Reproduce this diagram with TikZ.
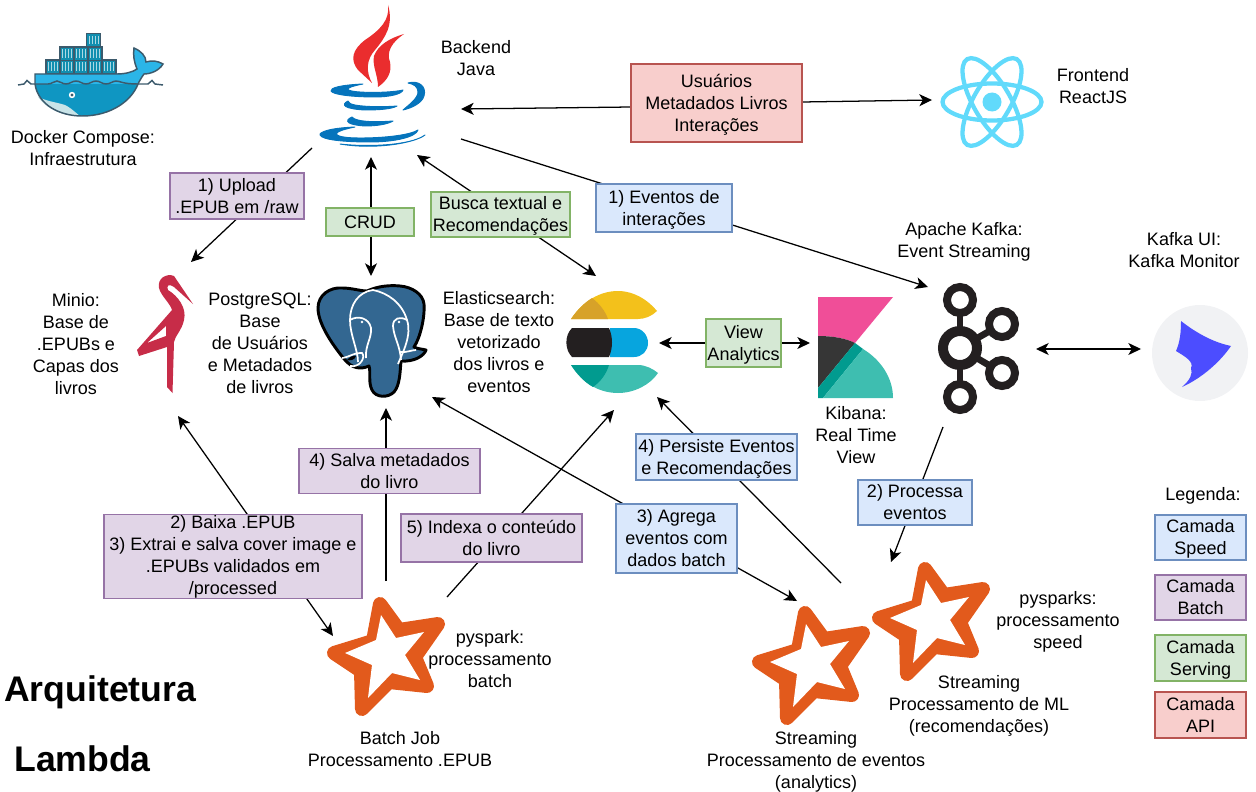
\documentclass[tikz,border=0pt]{standalone}
\usepackage{fontspec}
\setmainfont{Liberation Sans}
\usetikzlibrary{arrows.meta}
\newcommand{\Ls}{\rule[-3.4pt]{0pt}{16.3pt}}
\newcommand{\Lt}{\rule[-1.9pt]{0pt}{12.8pt}}
\definecolor{redF}{HTML}{F8CECC}\definecolor{redD}{HTML}{B85450}
\definecolor{purF}{HTML}{E1D5E7}\definecolor{purD}{HTML}{9673A6}
\definecolor{greF}{HTML}{D5E8D4}\definecolor{greD}{HTML}{82B366}
\definecolor{bluF}{HTML}{DAE8FC}\definecolor{bluD}{HTML}{6C8EBF}
\definecolor{spark}{HTML}{E25A1C}
\definecolor{javaB}{HTML}{0574BC}\definecolor{javaR}{HTML}{EA2D2E}
\definecolor{pgB}{HTML}{336791}\definecolor{minioR}{HTML}{C72C48}
\definecolor{reactC}{HTML}{61DAFB}\definecolor{kafkaK}{HTML}{231F20}
\definecolor{esY}{HTML}{F3C11B}\definecolor{esYD}{HTML}{D7A229}
\definecolor{esK}{HTML}{231F20}\definecolor{esB}{HTML}{07A5DE}
\definecolor{esT}{HTML}{3EBEB0}\definecolor{esTD}{HTML}{019B8F}
\definecolor{kbP}{HTML}{F04E98}\definecolor{kbK}{HTML}{363636}
\definecolor{dkB}{HTML}{2BB5E8}\definecolor{dkH}{HTML}{0F96C2}
\definecolor{dkL}{HTML}{3C5A6C}\definecolor{dkC}{HTML}{118FB0}\definecolor{dkW}{HTML}{C9E4E8}
\definecolor{uiG}{HTML}{F1F2F4}\definecolor{uiB}{HTML}{4C4DFF}
\tikzset{
  txt/.style={align=center,inner sep=0pt,font=\fontsize{13.5}{16.5}\selectfont},
  lab/.style={draw,line width=0.9pt,align=center,inner sep=0pt,font=\fontsize{13.5}{16.5}\selectfont},
  apibox/.style={lab,fill=redF,draw=redD},
  batchbox/.style={lab,fill=purF,draw=purD},
  servebox/.style={lab,fill=greF,draw=greD},
  speedbox/.style={lab,fill=bluF,draw=bluD},
  conn/.style={line width=0.95pt,-{Stealth[length=9.5pt,width=9pt,inset=2.6pt]}},
  connb/.style={line width=0.95pt,{Stealth[length=9.5pt,width=9pt,inset=2.6pt]}-{Stealth[length=9.5pt,width=9pt,inset=2.6pt]}},
  title/.style={inner sep=0pt,font=\fontsize{26.7}{30}\selectfont\bfseries},
  sparkstar/.pic={
    \filldraw[spark,line width=10.5pt,line join=round]
      (-5,-52)--(14,-26)--(53,-32)--(30,1)--(42,30)--(4,26)--(-23,53)--(-24,15)--(-51,-3)--(-12,-15)--cycle;
    \fill[white] (-4,-41)--(11,-18)--(39,-24)--(20,-1)--(35,24)--(7,17)--(-17,42)--(-13,9)--(-40,-3)--(-9,-16)--cycle;}
}
\begin{document}
\begin{tikzpicture}[x=0.75pt,y=-0.75pt]
\useasboundingbox (0,0) rectangle (1256,792);

% ---------- connector ports
\coordinate (javaUpload) at (312,148);
\coordinate (minioTop) at (191,262);
\coordinate (javaLeft) at (461,109);
\coordinate (reactLeft) at (932,100);
\coordinate (javaBottom) at (371,157);
\coordinate (pgTop) at (371,276);
\coordinate (javaSearch) at (417,155);
\coordinate (esTop) at (596,276);
\coordinate (javaEvents) at (461,139);
\coordinate (kafkaTop) at (928,287);
\coordinate (esRight) at (659,343);
\coordinate (kibanaLeft) at (810,343);
\coordinate (kafkaRight) at (1036,349);
\coordinate (uiLeft) at (1141,349);
\coordinate (kafkaBottom) at (943,427);
\coordinate (mlTop) at (891,562);
\coordinate (minioBottom) at (178,416);
\coordinate (batchLeft) at (333,636);
\coordinate (batchTop) at (386,581);
\coordinate (pgBottom) at (386,408);
\coordinate (batchRight) at (447,597);
\coordinate (esBottom) at (614,410);
\coordinate (pgRight) at (432,397);
\coordinate (analyticsTop) at (797,601);
\coordinate (mlLeft) at (841,583);
\coordinate (esLower) at (657,397);

% ---------- connectors (labels sit on top of them)
\draw[conn] (javaUpload) -- (minioTop);
\draw[conn] (631,107) -- (javaLeft);
\draw[conn] (802,102) -- (reactLeft);
\draw[connb] (javaBottom) -- (pgTop);
\draw[connb] (javaSearch) -- (esTop);
\draw[conn] (javaEvents) -- (kafkaTop);
\draw[connb] (esRight) -- (kibanaLeft);
\draw[connb] (kafkaRight) -- (uiLeft);
\draw[conn] (kafkaBottom) -- (mlTop);
\draw[connb] (minioBottom) -- (batchLeft);
\draw[conn] (batchTop) -- (pgBottom);
\draw[conn] (batchRight) -- (esBottom);
\draw[connb] (pgRight) -- (analyticsTop);
\draw[conn] (mlLeft) -- (esLower);

% ---------- Docker
\foreach \x/\y in {46/60,60/60,74/60,88/60,102/60,60/47,74/47,88/47,86.5/33.5}
  {\draw[dkL,fill=dkC,line width=1pt] (\x,\y) rectangle ++(14,13.2);
   \foreach \d in {3,6,9,12}{\draw[white!65!dkC,line width=0.35pt] (\x+\d-0.5,\y+2.5) -- (\x+\d-0.5,\y+11);}}
\fill[dkH] (35,84) .. controls (38,105) and (60,116) .. (82,116) .. controls (112,116) and (132,100) .. (138,84) -- cycle;
\fill[dkB] (35,74) -- (117,74) .. controls (125,74) and (133,72) .. (137,69) .. controls (134,62) and (133,55) .. (134,48) .. controls (141,51) and (146,56) .. (146,62) .. controls (152,60) and (158,61) .. (163,64) .. controls (159,71) and (150,74) .. (144,74) .. controls (141,78) and (139,82) .. (138,84) -- (35,84) -- cycle;
\fill[dkW] (38,97) .. controls (48,102) and (62,103) .. (67,106) .. controls (72,109) and (76,113) .. (80,116) .. controls (60,116) and (46,108) .. (38,97) -- cycle;
\draw[dkL,line width=1.1pt] (35,74) -- (117,74) .. controls (125,74) and (133,72) .. (137,69) .. controls (134,62) and (133,55) .. (134,48) .. controls (141,51) and (146,56) .. (146,62) .. controls (152,60) and (158,61) .. (163,64) .. controls (159,71) and (150,74) .. (144,74) .. controls (141,78) and (139,82) .. (138,84) .. controls (132,100) and (112,116) .. (82,116) .. controls (60,116) and (38,105) .. (35,84) -- cycle;
\draw[dkL,line width=1.1pt] (18,85) -- (24,84) -- (27,80.5) -- (31,84) -- (48,84) .. controls (52,84) and (54,81) .. (57,81) .. controls (60,81) and (62,84) .. (66,84) .. controls (70,84) and (72,81) .. (76,81) .. controls (80,81) and (82,84) .. (86,84) .. controls (90,84) and (92,81) .. (96,81) .. controls (100,81) and (102,84) .. (106,84) .. controls (110,84) and (113,81) .. (116,81) .. controls (120,81) and (122,84) .. (138,84) -- (148,84) -- (152,80.5) -- (155,84) -- (163,85);
\fill[white] (72,95) circle (3.2);\fill[dkL] (72,95) circle (1.6);

% ---------- Java
\fill[javaR] (388,5) .. controls (390,20) and (380,30) .. (365,40) .. controls (352,50) and (350,60) .. (358,70) -- (372,83) .. controls (366,72) and (366,60) .. (375,50) .. controls (385,38) and (394,25) .. (388,5) -- cycle;
\fill[javaR] (404,34) .. controls (390,38) and (378,45) .. (374,56) .. controls (372,66) and (378,75) .. (378,87) .. controls (388,80) and (392,72) .. (390,62) .. controls (386,52) and (392,42) .. (404,34) -- cycle;
\begin{scope}[javaB,line width=0.7pt,line join=round]
\filldraw (363,84) .. controls (340,85) and (330,88) .. (331,91) .. controls (333,95) and (355,97) .. (375,97) .. controls (390,97) and (402,94) .. (403,90) .. controls (395,92) and (375,93) .. (360,92) .. controls (345,91) and (342,88) .. (363,84) -- cycle;
\filldraw (408,83) .. controls (418,80) and (427,86) .. (424,96) .. controls (422,103) and (412,108) .. (403,110) .. controls (410,104) and (418,98) .. (418,92) .. controls (418,87) and (414,84) .. (408,83) -- cycle;
\filldraw (348,101) .. controls (340,105) and (345,109) .. (365,110) .. controls (380,110) and (392,109) .. (397,106) .. controls (385,107) and (365,107) .. (355,105) .. controls (350,104) and (349,103) .. (348,101) -- cycle;
\filldraw (352,117) .. controls (343,121) and (348,125) .. (365,126) .. controls (378,126) and (388,124) .. (393,121) .. controls (380,122) and (365,122) .. (358,120) .. controls (354,119) and (353,118) .. (352,117) -- cycle;
\filldraw (355,127) .. controls (330,128) and (319,132) .. (320,135) .. controls (322,140) and (345,142) .. (370,142) .. controls (395,142) and (416,137) .. (418,130) .. controls (410,135) and (385,138) .. (360,138) .. controls (335,138) and (325,133) .. (355,127) -- cycle;
\filldraw (340,144) .. controls (365,147) and (410,146) .. (425,135) .. controls (415,143) and (375,150) .. (340,144) -- cycle;
\end{scope}

% ---------- React
\foreach \a in {0,60,120}
  \draw[reactC,line width=3.2pt,rotate around={\a:(992,102)}] (992,102) ellipse [x radius=49.5,y radius=18.5];
\fill[reactC] (992,102) circle (9.5);

% ---------- MinIO
\fill[minioR,even odd rule] (159,288) .. controls (157,278) and (167,273) .. (174,276) -- (193,304) -- (174,287) .. controls (169,283) and (166,286) .. (168,290) .. controls (178,296) and (187,308) .. (184,320) .. controls (182,330) and (175,336) .. (174,342) -- (172.5,393) -- (167,387) -- (167,347) -- (139,356) -- (137,350) -- (172,310) .. controls (170,303) and (161,296) .. (159,288) -- cycle
 (147,343) -- (166,326) -- (166,336) -- cycle;

% ---------- PostgreSQL
\fill[pgB] (318,308) .. controls (318,295) and (330,287) .. (342,288) .. controls (352,288) and (360,291) .. (367,291) .. controls (378,286) and (390,285) .. (400,286) .. controls (412,287) and (423,294) .. (424,304) .. controls (425,318) and (420,338) .. (414,347) .. controls (418,349) and (422,349) .. (426,350) .. controls (424,356) and (414,362) .. (401,361) .. controls (400,372) and (400,385) .. (394,392) .. controls (388,398) and (376,398) .. (372,390) .. controls (368,382) and (371,372) .. (369,366) .. controls (360,370) and (352,368) .. (345,360) .. controls (335,348) and (318,325) .. (318,308) -- cycle;
\draw[black,line width=2.2pt,line join=round] (318,308) .. controls (318,295) and (330,287) .. (342,288) .. controls (352,288) and (360,291) .. (367,291) .. controls (378,286) and (390,285) .. (400,286) .. controls (412,287) and (423,294) .. (424,304) .. controls (425,318) and (420,338) .. (414,347) .. controls (418,349) and (422,349) .. (426,350) .. controls (424,356) and (414,362) .. (401,361) .. controls (400,372) and (400,385) .. (394,392) .. controls (388,398) and (376,398) .. (372,390) .. controls (368,382) and (371,372) .. (369,366) .. controls (360,370) and (352,368) .. (345,360) .. controls (335,348) and (318,325) .. (318,308) -- cycle;
\draw[white,line width=1.3pt,line join=round] (358,362) .. controls (358,350) and (350,335) .. (350,320) .. controls (350,305) and (358,292) .. (373,290) .. controls (388,293) and (402,303) .. (407,320) .. controls (412,335) and (403,352) .. (398,364);
\draw[white,line width=1.3pt] (350,320) .. controls (358,315) and (369,318) .. (371,328) .. controls (372,338) and (365,345) .. (366,358);
\draw[white,line width=1.3pt] (407,320) .. controls (400,316) and (393,318) .. (393,326) .. controls (394,338) and (400,345) .. (401,360);
\draw[white,line width=1.3pt] (342,358) .. controls (350,357) and (355,352) .. (362,353) .. controls (366,357) and (360,368) .. (350,366);
\draw[white,line width=1.3pt] (400,352) .. controls (405,353) and (412,350) .. (416,350);
\fill[white] (362,322) circle (1.3) (399,322) circle (1.3);
\fill[black] (356,356) .. controls (352,355) and (349,358) .. (347,360) .. controls (350,361) and (355,360) .. (356,356) -- cycle;

% ---------- Elasticsearch
\fill[esY] (571,319) .. controls (583,301) and (600,291) .. (618,291) .. controls (634,291) and (648,300) .. (657,311) .. controls (652,316) and (645,319) .. (638,319) -- cycle;
\fill[esYD] (571,319) .. controls (577,310) and (584,303) .. (592,298) .. controls (600,304) and (605,311) .. (608,319) -- cycle;
\fill[esB] (610,328) -- (634,328) .. controls (642,328) and (648,335) .. (648,343) .. controls (648,351) and (642,357) .. (634,357) -- (610,357) -- cycle;
\fill[esK] (572,328) -- (609,328) .. controls (613,337) and (613,348) .. (609,357) -- (572,357) .. controls (565,350) and (564,336) .. (572,328) -- cycle;
\fill[esT] (571,365) -- (638,365) .. controls (646,365) and (653,369) .. (658,373) .. controls (650,385) and (634,393) .. (618,393) .. controls (600,393) and (583,384) .. (571,365) -- cycle;
\fill[esTD] (571,365) -- (609,365) .. controls (606,375) and (600,382) .. (593,387) .. controls (584,382) and (577,374) .. (571,365) -- cycle;

% ---------- Kibana
\fill[kbP] (818,297) -- (893,297) -- (855,343) .. controls (845,338) and (832,336) .. (818,336) -- cycle;
\fill[kbK] (818,336) .. controls (832,336) and (845,338) .. (855,343) -- (818,388) -- cycle;
\fill[esTD] (855,343) -- (863,349) -- (823,398) -- (818,398) -- (818,388) -- cycle;
\fill[esT] (863,349) .. controls (881,360) and (893,378) .. (893,398) -- (823,398) -- cycle;

% ---------- Kafka
\begin{scope}[kafkaK]
\draw[line width=5.2pt] (960,300)--(960,397);
\draw[line width=5pt] (960,348)--(1002,324) (960,348)--(1002,373);
\fill[white] (960,300) circle (11) (960,397) circle (11) (1002,324) circle (11) (1002,373) circle (11) (960,348) circle (14);
\draw[line width=6pt] (960,300) circle (13) (960,397) circle (13) (1002,324) circle (13) (1002,373) circle (13);
\draw[line width=7.5pt] (960,348) circle (17);
\end{scope}

% ---------- Kafka UI
\fill[uiG] (1200,353) circle (48);
\fill[uiB] (1181,321) .. controls (1195,332) and (1212,342) .. (1231,346) .. controls (1220,362) and (1202,378) .. (1182,387) .. controls (1190,380) and (1193,374) .. (1191,368) .. controls (1194,362) and (1186,357) .. (1176,351) .. controls (1180,342) and (1181,332) .. (1181,321) -- cycle;

% ---------- Spark stars
\pic at (385,656) {sparkstar};
\pic at (810,665) {sparkstar};
\pic at (930,621) {sparkstar};

% ---------- labels
\node[apibox,minimum width=171*.75pt,minimum height=78*.75pt] (apiLabel) at (716.5,103) {\Ls Usuários\\Metadados Livros\\\Ls Interações};
\node[batchbox,minimum width=134*.75pt,minimum height=46*.75pt] (uploadLabel) at (237,196) {\Ls 1) Upload\\\Ls .EPUB em /raw};
\node[servebox,minimum width=88*.75pt,minimum height=28*.75pt] (crudLabel) at (370,222) {\Ls CRUD};
\node[servebox,minimum width=139*.75pt,minimum height=45*.75pt] (searchLabel) at (500.5,214.5) {\Ls Busca textual e\\\Ls Recomendações};
\node[speedbox,minimum width=136*.75pt,minimum height=48*.75pt] (eventsLabel) at (664,208) {\Ls 1) Eventos de\\\Ls interações};
\node[servebox,minimum width=75*.75pt,minimum height=48*.75pt] (viewLabel) at (743.5,343) {\Ls View\\\Ls Analytics};
\node[batchbox,minimum width=181*.75pt,minimum height=45*.75pt] (saveLabel) at (389.5,471) {\Ls 4) Salva metadados\\\Ls do livro};
\node[batchbox,minimum width=258*.75pt,minimum height=83*.75pt] (fetchLabel) at (233,556.5) {\Lt 2) Baixa .EPUB\\3) Extrai e salva cover image e\\.EPUBs validados em\\\Lt /processed};
\node[batchbox,minimum width=181*.75pt,minimum height=48*.75pt] (indexLabel) at (491.5,538) {\Ls 5) Indexa o conteúdo\\\Ls do livro};
\node[speedbox,minimum width=121*.75pt,minimum height=69*.75pt] (aggLabel) at (676.5,538.5) {\Ls 3) Agrega\\eventos com\\\Ls dados batch};
\node[speedbox,minimum width=161*.75pt,minimum height=46*.75pt] (persistLabel) at (716.5,457) {\Ls 4) Persiste Eventos\\\Ls e Recomendações};
\node[speedbox,minimum width=114*.75pt,minimum height=45*.75pt] (procLabel) at (915,502.5) {\Ls 2) Processa\\\Ls eventos};

\node[txt] (dockerText) at (83,148) {\Ls Docker Compose:\\\Ls Infraestrutura};
\node[txt] (javaText) at (476,58) {\Ls Backend\\\Ls Java};
\node[txt] (reactText) at (1093,86) {\Ls Frontend\\\Ls ReactJS};
\node[txt] (minioText) at (76,344) {\Ls Minio:\\Base de\\.EPUBs e\\Capas dos\\\Ls livros};
\node[txt] (pgText) at (260,343) {\Ls PostgreSQL:\\Base\\de Usuários\\e Metadados\\\Ls de livros};
\node[txt] (esText) at (499,342) {\Ls Elasticsearch:\\Base de texto\\vetorizado\\dos livros e\\\Ls eventos};
\node[txt] (kafkaText) at (964,240) {\Ls Apache Kafka:\\\Ls Event Streaming};
\node[txt] (uiText) at (1184,250) {\Ls Kafka UI:\\\Ls Kafka Monitor};
\node[txt] (kibanaText) at (856,435) {\Ls Kibana:\\Real Time\\\Ls View};
\node[txt] (sparkText) at (490,659) {\Ls pyspark:\\processamento\\\Ls batch};
\node[txt] (batchText) at (400,749) {\Ls Batch Job\\\Ls Processamento .EPUB};
\node[txt] (speedText) at (1058,620) {\Ls pysparks:\\processamento\\\Ls speed};
\node[txt] (mlText) at (979,704) {\Ls Streaming\\Processamento de ML\\\Ls (recomendações)};
\node[txt] (analyticsText) at (816,760) {\Ls Streaming\\Processamento de eventos\\\Ls (analytics)};
\node[txt] (legendText) at (1203,494) {\Ls Legenda:};
\node[speedbox,minimum width=91*.75pt,minimum height=45*.75pt] (legSpeed) at (1200.5,537.5) {\Ls Camada\\\Ls Speed};
\node[batchbox,minimum width=91*.75pt,minimum height=45*.75pt] (legBatch) at (1200.5,597.5) {\Ls Camada\\\Ls Batch};
\node[servebox,minimum width=91*.75pt,minimum height=46*.75pt] (legServe) at (1200.5,658) {\Ls Camada\\\Ls Serving};
\node[apibox,minimum width=91*.75pt,minimum height=46*.75pt] (legApi) at (1200.5,715) {\Ls Camada\\\Ls API};

\node[title,anchor=west] (titleA) at (4,692) {Arquitetura};
\node[title,anchor=west] (titleB) at (14,759) {Lambda};
\end{tikzpicture}
\end{document}
